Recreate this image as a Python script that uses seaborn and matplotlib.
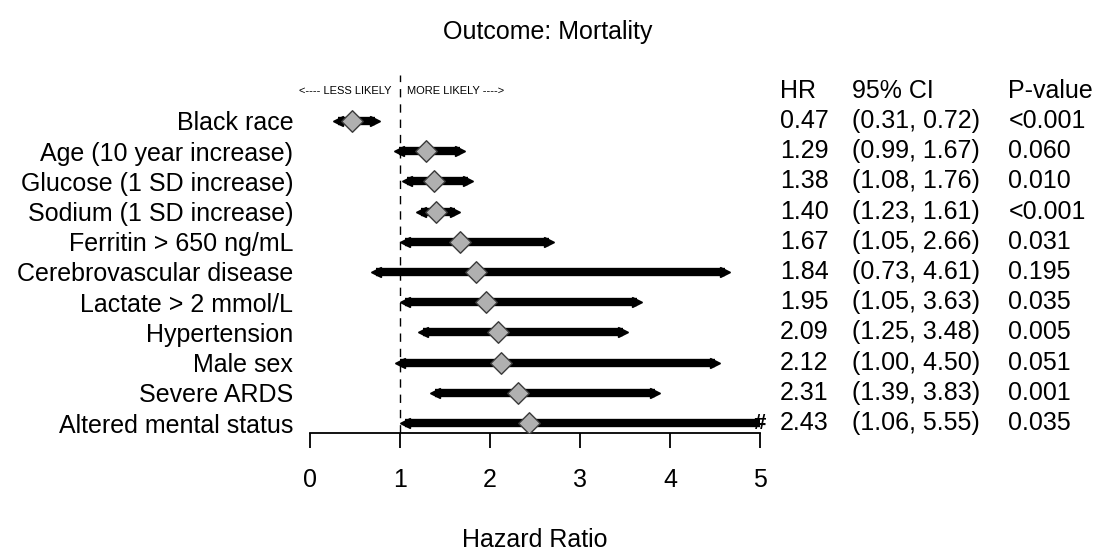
import matplotlib
matplotlib.use("Agg")
import matplotlib.pyplot as plt
import pandas as pd
import seaborn as sns

LABELS = ["Black race", "Age (10 year increase)", "Glucose (1 SD increase)",
          "Sodium (1 SD increase)", "Ferritin > 650 ng/mL", "Cerebrovascular disease",
          "Lactate > 2 mmol/L", "Hypertension", "Male sex", "Severe ARDS",
          "Altered mental status"]
HR = [0.47, 1.29, 1.38, 1.40, 1.67, 1.84, 1.95, 2.09, 2.12, 2.31, 2.43]
CI_LOW = [0.31, 0.99, 1.08, 1.23, 1.05, 0.73, 1.05, 1.25, 1.00, 1.39, 1.06]
CI_HIGH = [0.72, 1.67, 1.76, 1.61, 2.66, 4.61, 3.63, 3.48, 4.50, 3.83, 5.55]
P_VALUES = ["<0.001", "0.060", "0.010", "<0.001", "0.031", "0.195",
            "0.035", "0.005", "0.051", "0.001", "0.035"]
X_MAX = 5

sns.set_theme(style="white")
plt.rcParams["font.family"] = ["Liberation Sans", "DejaVu Sans"]
plt.rcParams["text.color"] = "black"
plt.rcParams["xtick.color"] = "black"
plt.rcParams["ytick.color"] = "black"

df = pd.DataFrame({"label": LABELS, "hr": HR, "lo": CI_LOW, "hi": CI_HIGH, "p": P_VALUES})
df["row"] = range(len(df))

fig = plt.figure(figsize=(10.98, 5.54), dpi=100)
ax = fig.add_axes([310 / 1098, (554 - 433) / 554, 450 / 1098, 358 / 554])

# confidence interval bars with arrow ends, clipped at the axis limit
for _, r in df.iterrows():
    hi = min(r.hi, X_MAX)
    ax.hlines(r.row, r.lo, hi, color="black", lw=6, clip_on=False, zorder=2)
    ax.plot(r.lo, r.row, marker="<", color="black", ms=7.5, clip_on=False, zorder=2)
    if r.hi > X_MAX:
        ax.text(X_MAX, r.row, "#", ha="center", va="center", fontsize=16,
                fontweight="bold", zorder=3)
    else:
        ax.plot(hi, r.row, marker=">", color="black", ms=7.5, clip_on=False, zorder=2)

sns.scatterplot(data=df, x="hr", y="row", marker="D", s=120, color="#b0b0b0",
                edgecolor="#3a3a3a", linewidth=1, ax=ax, zorder=4, legend=False)

ax.axvline(1, color="black", lw=1, ls=(0, (6, 5)), zorder=1)

ax.set_xlim(0, X_MAX)
ax.set_ylim(10.33, -1.52)
ax.set_xticks(range(0, X_MAX + 1))
ax.set_xticklabels([str(i) for i in range(0, X_MAX + 1)], fontsize=18)
ax.set_yticks(df["row"])
ax.set_yticklabels(df["label"], fontsize=18)
ax.tick_params(axis="y", length=0, pad=12)
ax.tick_params(axis="x", direction="out", length=11, width=1.3, pad=14, bottom=True)
ax.set_xlabel("")
ax.set_ylabel("")
for side in ["top", "right", "left"]:
    ax.spines[side].set_visible(False)
ax.spines["bottom"].set_linewidth(1.3)
ax.spines["bottom"].set_color("black")

# table on the right
head_y = -1.0
col_hr, col_ci, col_p = 5.22, 6.02, 7.76
ax.text(col_hr, head_y, "HR", fontsize=18, va="center", clip_on=False)
ax.text(col_ci, head_y, "95% CI", fontsize=18, va="center", clip_on=False)
ax.text(col_p, head_y, "P-value", fontsize=18, va="center", clip_on=False)
for _, r in df.iterrows():
    ax.text(col_hr, r.row, f"{r.hr:.2f}", fontsize=18, va="center", clip_on=False)
    ax.text(col_ci, r.row, f"({r.lo:.2f}, {r.hi:.2f})", fontsize=18, va="center", clip_on=False)
    ax.text(col_p, r.row, r.p, fontsize=18, va="center", clip_on=False)

ax.text(0.91, head_y, "<---- LESS LIKELY", fontsize=8, ha="right", va="center")
ax.text(1.08, head_y, "MORE LIKELY ---->", fontsize=8, ha="left", va="center")

fig.text(0.499, 1 - 32 / 554, "Outcome: Mortality", fontsize=18, ha="center", va="center")
fig.text(0.487, 1 - 540 / 554, "Hazard Ratio", fontsize=18, ha="center", va="center")

fig.savefig("out.png", dpi=100)
